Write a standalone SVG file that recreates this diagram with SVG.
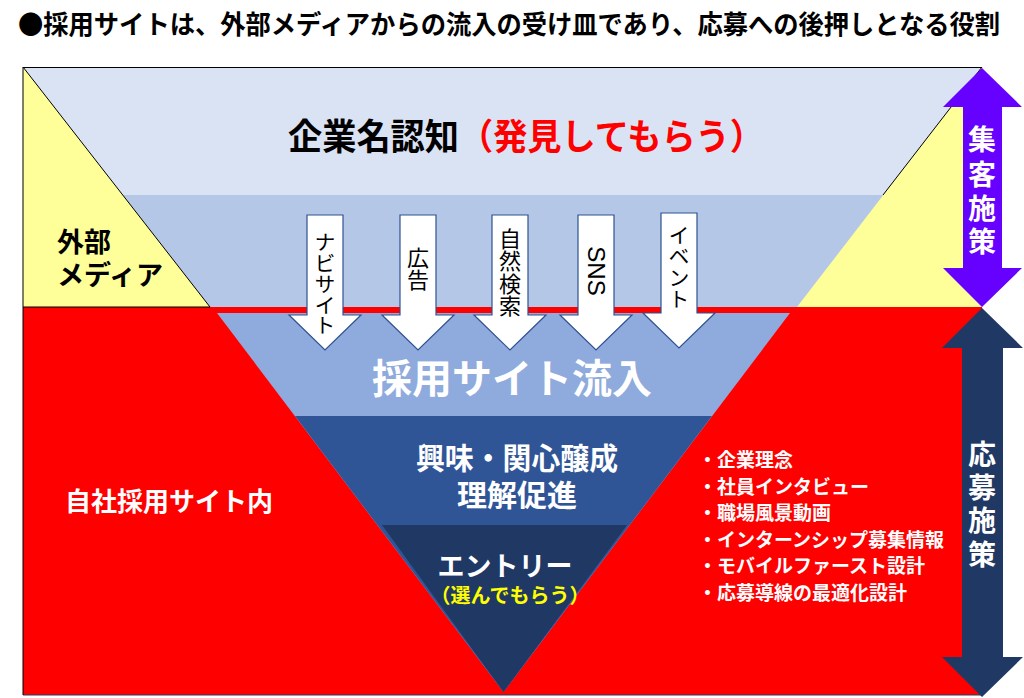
<svg xmlns="http://www.w3.org/2000/svg" width="1024" height="698" viewBox="0 0 1024 698">
<defs>
<style>
text{font-family:"Noto Sans CJK JP","Noto Sans CJK SC",sans-serif;font-weight:700}
.w{fill:#fff}
.k{fill:#000}
.r{fill:#ff0000}
.y{fill:#ffff00}
.c{text-anchor:middle}
.al{font-weight:400;font-size:22px;fill:#000;text-anchor:middle}
.ak{font-size:20.5px}
.blk{fill:#fff;stroke:#2f528f;stroke-width:1.2}
.ln{stroke:#000;stroke-width:1;fill:none}
</style>
<path id="dn" d="M-18,0H18V100H36L0,135L-36,100H-18Z"/>
</defs>
<rect width="1024" height="698" fill="#fff"/>
<text id="title" x="18" y="34" font-size="26" class="k" textLength="982" lengthAdjust="spacingAndGlyphs">●採用サイトは、外部メディアからの流入の受け皿であり、応募への後押しとなる役割</text>

<g id="awareness">
<rect x="23" y="67" width="959" height="129" fill="#dae3f3"/>
</g>
<g id="inflow-band">
<rect x="23" y="195" width="959" height="113" fill="#b4c7e7"/>
</g>
<g id="own-site">
<rect x="23" y="307" width="959" height="388" fill="#ff0000"/>
<line x1="23" y1="695" x2="982" y2="695" stroke="#2f3f5f" stroke-width="1.2"/>
</g>
<g id="external-media">
<polygon points="23,67 210,307 23,307" fill="#ffff99"/>
<polygon points="982,67 797,307 982,307" fill="#ffff99"/>
<polyline class="ln" points="23,307 210,307 23,67 23,695"/>
<line class="ln" x1="23" y1="67.5" x2="982" y2="67.5"/>
<line class="ln" x1="982" y1="67" x2="883" y2="195"/>
<text x="57" y="252" font-size="27" class="k">外部</text>
<text x="57" y="285" font-size="27" class="k">メディア</text>
</g>
<g id="funnel">
<polygon points="217,313 790,313 503.5,692" fill="#8faadc"/>
<polygon points="295,416 712,416 503.5,692" fill="#2f5597"/>
<polygon points="382,525 627,525 503.5,692" fill="#203864"/>
</g>

<g id="connectors">
<g id="arrow-navi"><use href="#dn" x="325" y="215" class="blk"/>
<text class="al ak"><tspan x="325" y="249.5">ナ</tspan><tspan x="325" y="270.5">ビ</tspan><tspan x="325" y="291.5">サ</tspan><tspan x="325" y="312.5">イ</tspan><tspan x="325" y="333">ト</tspan></text></g>
<g id="arrow-ad"><use href="#dn" x="418" y="215" class="blk"/>
<text class="al"><tspan x="418" y="265.5">広</tspan><tspan x="418" y="288">告</tspan></text></g>
<g id="arrow-search"><use href="#dn" x="510" y="215" class="blk"/>
<text class="al"><tspan x="510" y="246.5">自</tspan><tspan x="510" y="269">然</tspan><tspan x="510" y="291.5">検</tspan><tspan x="510" y="314">索</tspan></text></g>
<g id="arrow-sns"><use href="#dn" x="596" y="215" class="blk"/>
<text transform="translate(596,271) rotate(90)" y="8.5" font-size="24" style="font-family:'Liberation Sans',Arial,sans-serif;font-weight:400" class="k c">SNS</text></g>
<g id="arrow-event"><use href="#dn" x="679" y="213" class="blk"/>
<text class="al ak"><tspan x="679" y="242.5">イ</tspan><tspan x="679" y="264">ベ</tspan><tspan x="679" y="285.5">ン</tspan><tspan x="679" y="307">ト</tspan></text></g>
</g>

<g id="labels">
<text x="288" y="150" font-size="36" class="k" textLength="476" lengthAdjust="spacingAndGlyphs">企業名認知<tspan class="r">（発見してもらう）</tspan></text>
<text x="512" y="393" font-size="40" class="w c">採用サイト流入</text>
<text x="517" y="469" font-size="30" class="w c" textLength="202" lengthAdjust="spacingAndGlyphs">興味・関心醸成</text>
<text x="517" y="506" font-size="30" class="w c">理解促進</text>
<text x="505" y="576" font-size="27" class="w c">エントリー</text>
<text x="510" y="603" font-size="20" class="y c">（選んでもらう）</text>
<text x="65" y="511" font-size="26" class="w">自社採用サイト内</text>
<g font-size="19" class="w">
<text x="698" y="467">・企業理念</text>
<text x="698" y="493.5">・社員インタビュー</text>
<text x="698" y="520">・職場風景動画</text>
<text x="698" y="546.5">・インターンシップ募集情報</text>
<text x="698" y="573">・モバイルファースト設計</text>
<text x="698" y="599.5">・応募導線の最適化設計</text>
</g>
</g>

<g id="attract-measures">
<path d="M982,68L1022,107H1002V268H1022L982,307L943,268H963V107H943Z" fill="#6600ff"/>
<text font-size="28" class="w c"><tspan x="982" y="150">集</tspan><tspan x="982" y="185">客</tspan><tspan x="982" y="219">施</tspan><tspan x="982" y="252">策</tspan></text>
</g>
<g id="apply-measures">
<path d="M982,308L1023,348H1003V657H1023L982,697L942,657H962V348H942Z" fill="#203864"/>
<text font-size="28" class="w c"><tspan x="982" y="465">応</tspan><tspan x="982" y="498">募</tspan><tspan x="982" y="531">施</tspan><tspan x="982" y="565">策</tspan></text>
</g>
</svg>
